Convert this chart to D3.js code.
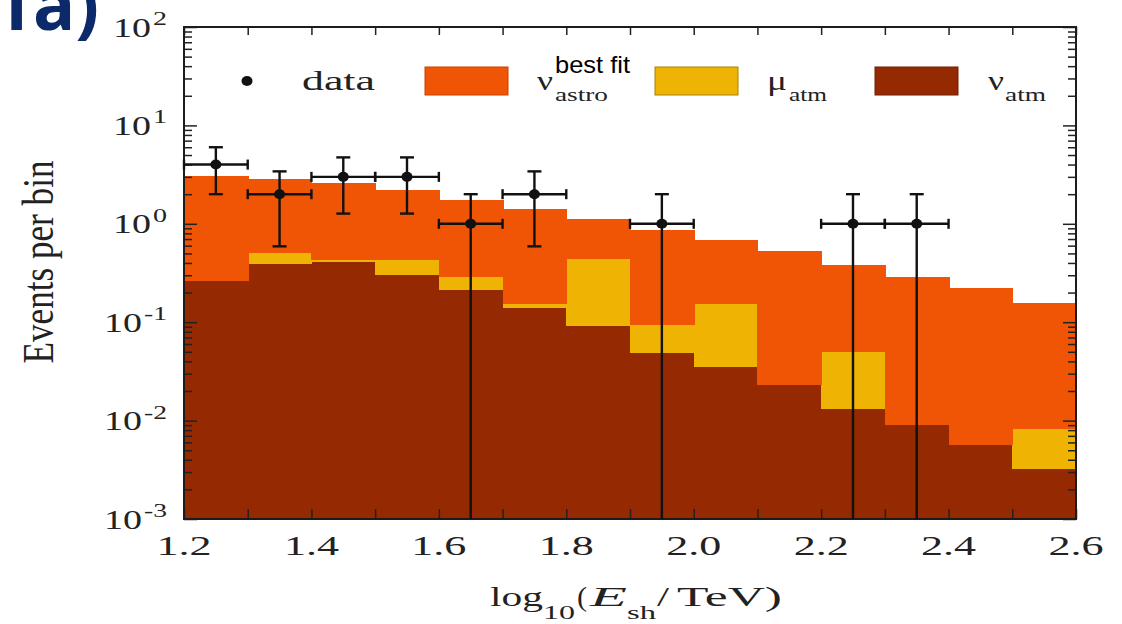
<!DOCTYPE html>
<html><head><meta charset="utf-8">
<script src="https://cdn.jsdelivr.net/npm/d3@7"></script>
<style>html,body{margin:0;padding:0;background:#fff;} svg{display:block}</style>
</head><body>
<svg id="c" width="1122" height="624"></svg>
<script>
// ---- data ----
const binStart = [1.2,1.3,1.4,1.5,1.6,1.7,1.8,1.9,2.0,2.1,2.2,2.3,2.4,2.5];
const binWidth = 0.1;
const nuAtm   = [0.26,0.39,0.41,0.305,0.21,0.138,0.091,0.0486,0.035,0.0228,0.0132,0.0091,0.0056,0.00325];
const muAtm   = [0,0.11,0.02,0.125,0.08,0.014,0.35,0.044,0.117,0,0.0366,0,0,0.0049];
const nuAstro = [2.8,2.33,2.17,1.8,1.47,1.25,0.69,0.77,0.53,0.51,0.335,0.28,0.217,0.147];
const dataX   = [1.25,1.35,1.45,1.55,1.65,1.75,1.95,2.25,2.35];
const dataY   = [4,2,3,3,1,2,1,1,1];
const dataErr = [2,1.41,1.73,1.73,1,1.41,1,1,1];
const xTickLabels = ["1.2","1.4","1.6","1.8","2.0","2.2","2.4","2.6"];
const yTickVals = [100,10,1,0.1,0.01,0.001];
const yTickExps = ["2","1","0","-1","-2","-3"];

const colAstro = "#f05506", colMu = "#efb303", colNu = "#952a02";

const svg = d3.select("#c");
const L = 184, R = 1076, T0 = 27, B = 519;
const x = d3.scaleLinear().domain([1.2, 2.6]).range([L, R]);
const y = d3.scaleLog().domain([1e-3, 1e2]).range([B, T0]).clamp(true);
const yv = v => y(Math.max(v, 1e-3));
const SERIF = "'Liberation Serif', 'DejaVu Serif', serif";

function txt(parent, str, px, py, o) {
  const t = parent.append("text").attr("x", px).attr("y", py).text(str)
    .attr("font-family", o.ff || SERIF)
    .attr("font-size", o.fs).attr("fill", o.fill || "#222");
  if (o.len) t.attr("textLength", o.len).attr("lengthAdjust", "spacingAndGlyphs");
  if (o.style) t.attr("font-style", o.style);
  if (o.weight) t.attr("font-weight", o.weight);
  if (o.anchor) t.attr("text-anchor", o.anchor);
  return t;
}

// ---- stacked histogram ----
const rows = binStart.map((b, i) => ({b, nu: nuAtm[i], mu: muAtm[i], astro: nuAstro[i]}));
const stack = d3.stack().keys(["nu", "mu", "astro"])(rows);
const colors = {nu: colNu, mu: colMu, astro: colAstro};
const gBars = svg.append("g").attr("shape-rendering", "crispEdges");
stack.forEach(layer => {
  gBars.selectAll(null).data(layer).join("rect")
    .attr("x", d => x(d.data.b))
    .attr("width", d => x(d.data.b + binWidth) - x(d.data.b) + 1)
    .attr("y", d => yv(d[1]))
    .attr("height", d => Math.max(0, yv(d[0]) - yv(d[1])))
    .attr("fill", colors[layer.key]);
});

// ---- axes ticks ----
const tickStyle = g => { g.select(".domain").remove(); g.selectAll("line").attr("stroke", "#222").attr("stroke-width", 1.5); };
svg.append("g").attr("transform", `translate(0,${B})`)
  .call(d3.axisBottom(x).ticks(14).tickSize(-10).tickFormat("")).call(tickStyle);
svg.append("g").attr("transform", `translate(0,${T0})`)
  .call(d3.axisTop(x).ticks(14).tickSize(-8).tickFormat("")).call(tickStyle);
const minorY = y.ticks().filter(v => !yTickVals.some(m => Math.abs(m - v) < 1e-12));
svg.append("g").attr("transform", `translate(${L},0)`)
  .call(d3.axisLeft(y).tickValues(minorY).tickSize(-8).tickFormat("")).call(tickStyle);
svg.append("g").attr("transform", `translate(${L},0)`)
  .call(d3.axisLeft(y).tickValues(yTickVals).tickSize(-13).tickFormat("")).call(tickStyle);
svg.append("g").attr("transform", `translate(${R},0)`)
  .call(d3.axisRight(y).tickValues(minorY).tickSize(-8).tickFormat("")).call(tickStyle);
svg.append("g").attr("transform", `translate(${R},0)`)
  .call(d3.axisRight(y).tickValues(yTickVals).tickSize(-13).tickFormat("")).call(tickStyle);

svg.append("rect").attr("x", L).attr("y", T0).attr("width", R - L).attr("height", B - T0)
  .attr("fill", "none").attr("stroke", "#1c1c1c").attr("stroke-width", 2);

// ---- data points with error bars ----
const gD = svg.append("g").attr("stroke", "#111").attr("stroke-width", 2.4).attr("fill", "#111");
dataX.forEach((xc, i) => {
  const v = dataY[i], e = dataErr[i];
  const cx = x(xc), cy = y(v);
  const yt = yv(v + e), yb = yv(v - e);
  gD.append("line").attr("x1", cx).attr("x2", cx).attr("y1", yt).attr("y2", yb);
  gD.append("line").attr("x1", cx - 7).attr("x2", cx + 7).attr("y1", yt).attr("y2", yt);
  if (v - e > 1e-3) gD.append("line").attr("x1", cx - 7).attr("x2", cx + 7).attr("y1", yb).attr("y2", yb);
  const xl = x(xc - binWidth / 2), xr = x(xc + binWidth / 2);
  gD.append("line").attr("x1", xl).attr("x2", xr).attr("y1", cy).attr("y2", cy);
  gD.append("line").attr("x1", xl).attr("x2", xl).attr("y1", cy - 5).attr("y2", cy + 5);
  gD.append("line").attr("x1", xr).attr("x2", xr).attr("y1", cy - 5).attr("y2", cy + 5);
  gD.append("ellipse").attr("cx", cx).attr("cy", cy).attr("rx", 5.5).attr("ry", 5).attr("stroke", "none");
});

// ---- tick labels ----
const gT = svg.append("g");
xTickLabels.forEach(s => txt(gT, s, x(+s) - 27.5, 555, {fs: 27, len: 55}));
yTickVals.forEach((v, i) => {
  const ty = y(v), ex = yTickExps[i];
  const supLen = ex.length === 1 ? 14 : 23;
  const supStart = 167 - supLen;
  txt(gT, ex, supStart, ty - 2, {fs: 18, len: supLen});
  txt(gT, "10", supStart - 2 - 38, ty + 9.5, {fs: 27, len: 38});
});

// ---- axis titles ----
const gy = svg.append("g").attr("transform", "translate(53,262) scale(1.65,1) rotate(-90)");
txt(gy, "Events per bin", -101.5, 0, {fs: 27, len: 203});

const gx = svg.append("g");
txt(gx, "log", 490, 606, {fs: 28, len: 53});
txt(gx, "10", 543, 619, {fs: 18, len: 32});
txt(gx, "(", 577, 606, {fs: 28, len: 10});
txt(gx, "E", 590, 606, {fs: 28, len: 37, style: "italic"});
txt(gx, "sh", 627, 619, {fs: 18, len: 29});
txt(gx, "/", 657, 606, {fs: 28, len: 12});
txt(gx, "TeV)", 677, 606, {fs: 28, len: 105});

// ---- legend ----
const gL = svg.append("g");
gL.append("ellipse").attr("cx", 247).attr("cy", 81).attr("rx", 5.5).attr("ry", 5).attr("fill", "#111");
txt(gL, "data", 302, 90, {fs: 27, len: 73});
const legRects = [[425, colAstro, "#c94200"], [655, colMu, "#a88000"], [875, colNu, "#6e1f00"]];
legRects.forEach(([lx, c, s]) => gL.append("rect").attr("x", lx).attr("y", 67).attr("width", 83).attr("height", 28)
  .attr("fill", c).attr("stroke", s).attr("stroke-width", 1));
txt(gL, "ν", 537, 90, {fs: 27, len: 16});
txt(gL, "astro", 555, 101, {fs: 18, len: 53});
txt(gL, "best fit", 555, 73, {fs: 24, len: 75, ff: "'Liberation Sans', Arial, sans-serif", fill: "#000"});
txt(gL, "μ", 767, 90, {fs: 27, len: 20});
txt(gL, "atm", 789, 101, {fs: 18, len: 38});
txt(gL, "ν", 988, 90, {fs: 27, len: 16});
txt(gL, "atm", 1005, 101, {fs: 18, len: 41});

// ---- panel tag ----
txt(svg, "1a)", 99, 30, {fs: 70, ff: "'Open Sans', 'Noto Sans', sans-serif", weight: 700, fill: "#0c2a6a", anchor: "end"});
</script>
</body></html>
